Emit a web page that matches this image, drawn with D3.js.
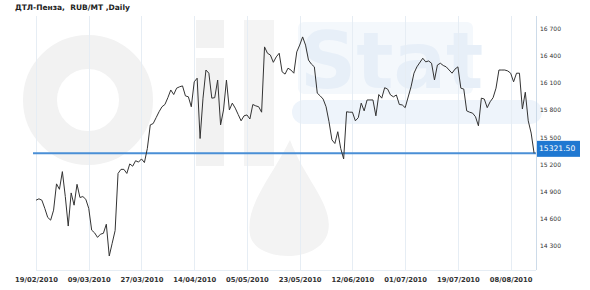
<!DOCTYPE html>
<html>
<head>
<meta charset="utf-8">
<script src="https://cdn.jsdelivr.net/npm/d3@7"></script>
<style>
  body { margin: 0; background: #fff; }
  svg { display: block; }
</style>
</head>
<body>
<svg width="590" height="290"></svg>
<script>
(() => {
    const chartTitle = "ДТЛ-Пенза,  RUB/MT ,Daily";
    // sample index (trading-day position) and price
    const sampleIdx = [
      0, 1, 2, 3, 4, 5, 6, 7, 8, 9, 10, 11, 12, 13, 14, 15, 16, 17, 18, 19,
      20, 21, 22, 23, 24, 25, 26, 27, 28, 29, 30, 31, 32, 33, 34, 35, 36, 37, 38, 39,
      40, 41, 42, 43, 44, 45, 46, 47, 48, 49, 50, 51, 52, 53, 54, 55, 56, 57, 58, 59,
      60, 61, 62, 63, 64, 65, 66, 67, 68, 69, 70, 71, 72, 73, 74, 75, 76, 77, 78, 79,
      80, 81, 82, 83, 84, 85, 86, 87, 88, 89, 90, 91, 92, 93, 94, 95, 96, 97, 98, 99,
      100, 101, 102, 103, 104, 105, 106, 107, 108, 109, 110, 111, 112, 113, 114, 115, 116, 117, 118, 119,
      120, 121, 122, 123, 124, 125, 126, 128, 129, 130, 132, 133, 134, 135, 136, 137, 138, 139, 140,
      142, 143, 144, 145, 146, 147, 148, 149, 150, 151, 152, 153, 154, 155, 156, 157, 158, 159, 160,
      161, 162, 163, 164, 165, 166, 167, 168, 169, 170
    ];
    const price = [
      14805, 14820, 14805, 14715, 14615, 14585, 14695, 14985, 14925, 15120, 14845, 14520, 14885, 14750, 14980, 14835, 14845, 14815, 14715, 14475,
      14445, 14395, 14430, 14440, 14540, 14190, 14330, 14470, 15100, 15145, 15145, 15100, 15205, 15180, 15240, 15225, 15260, 15220, 15375, 15635,
      15650, 15715, 15780, 15835, 15860, 15935, 16020, 15970, 16040, 16055, 16065, 15955, 15945, 15835, 16110, 16150, 15485, 15930, 16240, 16205,
      15930, 15935, 16130, 15635, 15800, 16130, 15800, 15875, 15820, 15750, 15680, 15735, 15745, 15700, 15860, 15845, 15835, 15775, 16495, 16425,
      16405, 16325, 16385, 16425, 16220, 16195, 16260, 16240, 16205, 16440, 16515, 16605, 16515, 16350, 16305, 16275, 15985, 15955, 15920, 15835,
      15670, 15470, 15430, 15560, 15375, 15260, 15780, 15775, 15775, 15680, 15715, 15875, 15790, 15910, 15910, 15910, 15735, 15970, 15930, 16045,
      16030, 15965, 15945, 15965, 15860, 15855, 15825, 16055, 16205, 16275, 16370, 16330, 16340, 16315, 16130, 16295, 16315, 16290, 16275,
      16205, 16250, 16275, 16040, 16030, 15790, 15775, 15765, 15725, 15625, 15930, 15920, 15825, 15890, 15935, 16040, 16240, 16240, 16240,
      16230, 16205, 16110, 16205, 16205, 15810, 15995, 15680, 15545, 15321.5
    ];
    const dateTickIdx = [0, 18, 36, 54, 72, 90, 108, 126, 144, 162];
    const dateTickLabels = ["19/02/2010", "09/03/2010", "27/03/2010", "14/04/2010", "05/05/2010",
      "23/05/2010", "12/06/2010", "01/07/2010", "19/07/2010", "08/08/2010"];
    const priceTicks = [14300, 14600, 14900, 15200, 15500, 15800, 16100, 16400, 16700];
    const lastPrice = 15321.5;

    const plot = {left: 36, right: 536, top: 16, bottom: 270};

    const svg = d3.select("svg");

    const x = d3.scaleLinear().domain([0, 170]).range([36, 534.1]);
    const y = d3.scaleLinear().domain([14300, 16700]).range([246, 28.3]);

    // faint OilStat watermark in the background
    const wm = svg.append("g").attr("class", "watermark");
    wm.append("circle").attr("cx", 88).attr("cy", 100).attr("r", 48)
      .attr("fill", "none").attr("stroke", "#f2f2f2").attr("stroke-width", 34);
    wm.append("rect").attr("x", 196).attr("y", 58).attr("width", 28).attr("height", 108).attr("fill", "#f2f2f2");
    wm.append("rect").attr("x", 196).attr("y", 20).attr("width", 28).attr("height", 28).attr("fill", "#f2f2f2");
    wm.append("rect").attr("x", 244).attr("y", 20).attr("width", 30).attr("height", 146).attr("fill", "#f4f4f4");
    wm.append("path")
      .attr("d", "M290,140 C270,180 245,205 250,235 C255,262 320,265 328,232 C334,205 305,180 290,140 Z")
      .attr("fill", "#f3f3f3");
    wm.append("rect").attr("x", 298).attr("y", 22).attr("width", 175).attr("height", 72).attr("rx", 6)
      .attr("fill", "#f4f8fc");
    wm.append("text").attr("x", 300).attr("y", 88).attr("font-family", "DejaVu Sans")
      .attr("font-weight", "bold").attr("font-size", 78).attr("fill", "#e7eff8").text("Stat");
    wm.append("rect").attr("x", 292).attr("y", 100).attr("width", 250).attr("height", 24).attr("rx", 12)
      .attr("fill", "#eef4fb");

    // vertical grid lines at the date ticks
    svg.append("g").attr("class", "grid")
      .selectAll("line")
      .data(dateTickIdx)
      .enter().append("line")
        .attr("x1", (d) => Math.round(x(d)) + 0.5)
        .attr("x2", (d) => Math.round(x(d)) + 0.5)
        .attr("y1", plot.top)
        .attr("y2", plot.bottom)
        .attr("stroke", "#e6edf4");

    svg.append("line")
      .attr("x1", plot.left).attr("x2", plot.right)
      .attr("y1", plot.bottom + 0.5).attr("y2", plot.bottom + 0.5)
      .attr("stroke", "#e6edf4");
    svg.append("line")
      .attr("x1", plot.right + 0.5).attr("x2", plot.right + 0.5)
      .attr("y1", plot.top).attr("y2", plot.bottom)
      .attr("stroke", "#cddbe9");

    // x axis labels
    const xAxis = svg.append("g")
      .attr("class", "axis axis--x")
      .attr("transform", "translate(0," + plot.bottom + ")")
      .call(d3.axisBottom(x)
        .tickValues(dateTickIdx)
        .tickFormat((d, i) => dateTickLabels[i])
        .tickSize(0)
        .tickPadding(7));
    xAxis.select(".domain").remove();
    xAxis.selectAll("text")
      .attr("font-family", "DejaVu Sans")
      .attr("font-weight", "bold")
      .attr("font-size", 6.8)
      .attr("fill", "#333");

    // y axis labels on the right
    const fmt = (v) => d3.format(",")(v).replace(",", " ");
    const yAxis = svg.append("g")
      .attr("class", "axis axis--y")
      .attr("transform", "translate(" + plot.right + ",0)")
      .call(d3.axisRight(y).tickValues(priceTicks).tickFormat(fmt).tickSize(0).tickPadding(4));
    yAxis.select(".domain").remove();
    yAxis.selectAll("text")
      .attr("font-family", "DejaVu Sans")
      .attr("font-size", 6)
      .attr("fill", "#333");

    // current price line
    svg.append("line")
      .attr("x1", 33).attr("x2", plot.right)
      .attr("y1", y(lastPrice)).attr("y2", y(lastPrice))
      .attr("stroke", "#4a8fd6")
      .attr("stroke-width", 2);

    // price series
    const series = sampleIdx.map((t, i) => ({t: t, v: price[i]}));
    svg.append("path")
      .datum(series)
      .attr("fill", "none")
      .attr("stroke", "#333")
      .attr("stroke-width", 1)
      .attr("d", d3.line().x((d) => x(d.t)).y((d) => y(d.v)));

    // last price badge
    svg.append("rect")
      .attr("x", plot.right + 1)
      .attr("y", y(lastPrice) - 12.5)
      .attr("width", 43)
      .attr("height", 16)
      .attr("fill", "#1f78d1");
    svg.append("text")
      .attr("x", plot.right + 3)
      .attr("y", y(lastPrice) - 2)
      .attr("font-family", "DejaVu Sans")
      .attr("font-size", 7.6)
      .attr("fill", "#fff")
      .text(d3.format(".2f")(lastPrice));

    // title
    svg.append("text")
      .attr("x", 15)
      .attr("y", 10)
      .attr("font-family", "DejaVu Sans")
      .attr("font-weight", "bold")
      .attr("font-size", 7.5)
      .attr("fill", "#222")
      .style("white-space", "pre")
      .text(chartTitle);
})();
</script>
</body>
</html>
